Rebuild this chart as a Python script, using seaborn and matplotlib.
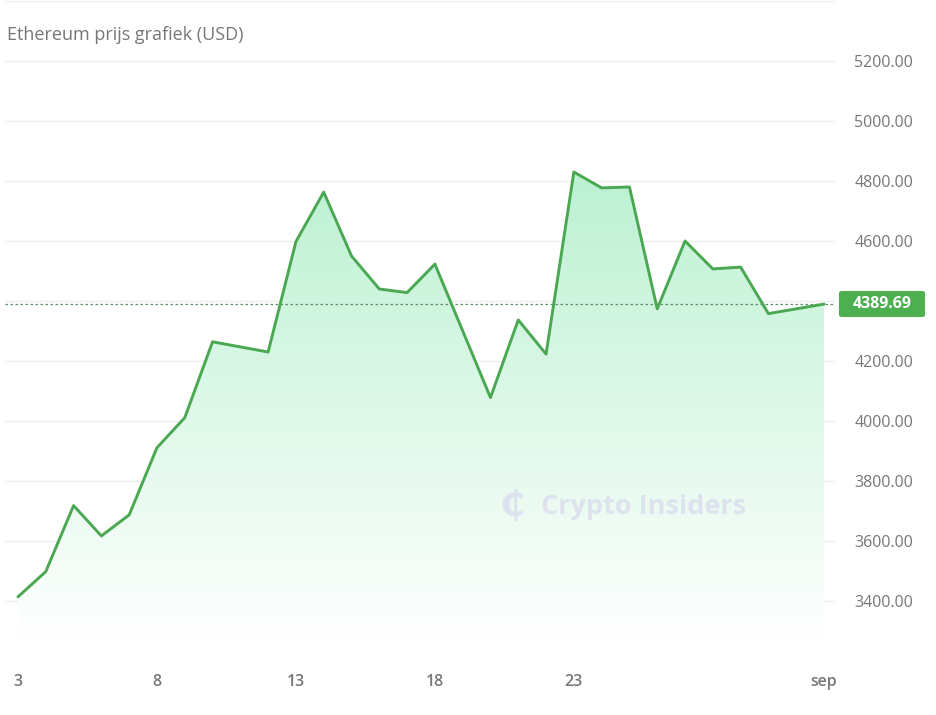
import numpy as np
import pandas as pd
import matplotlib
matplotlib.use("Agg")
import matplotlib.pyplot as plt
import matplotlib.dates as mdates
from matplotlib.patches import FancyBboxPatch
import seaborn as sns

# ---- data ----
dates = ["2025-08-03", "2025-08-04", "2025-08-05", "2025-08-06", "2025-08-07",
         "2025-08-08", "2025-08-09", "2025-08-10", "2025-08-12", "2025-08-13",
         "2025-08-14", "2025-08-15", "2025-08-16", "2025-08-17", "2025-08-18",
         "2025-08-20", "2025-08-21", "2025-08-22", "2025-08-23", "2025-08-24",
         "2025-08-25", "2025-08-26", "2025-08-27", "2025-08-28", "2025-08-29",
         "2025-08-30", "2025-09-01"]
prices = [3414, 3498, 3718, 3617, 3687, 3911, 4011, 4264, 4230, 4598,
          4763, 4550, 4440, 4428, 4523, 4078, 4337, 4223, 4830, 4777,
          4780, 4374, 4600, 4507, 4513, 4358, 4389.69]
xtick_dates = ["2025-08-03", "2025-08-08", "2025-08-13", "2025-08-18", "2025-08-23", "2025-09-01"]
xtick_labels = ["3", "8", "13", "18", "23", "sep"]
ytick_values = [3400, 3600, 3800, 4000, 4200, 4600, 4800, 5000, 5200]
grid_values = [3400, 3600, 3800, 4000, 4200, 4400, 4600, 4800, 5000, 5200, 5400]
title = "Ethereum prijs grafiek (USD)"
watermark = "Crypto Insiders"

df = pd.DataFrame({"date": pd.to_datetime(dates), "price": prices})

sns.set_theme(style="white")
plt.rcParams["font.family"] = ["Open Sans", "DejaVu Sans"]

W, H = 937, 715
fig = plt.figure(figsize=(W / 100, H / 100), dpi=100)
ax = fig.add_axes([5 / W, 1 - 643 / H, (835 - 5) / W, (643 - 1) / H])

line_color = "#4aa853"
ymin, ymax = 3260, 5400

x0 = mdates.date2num(pd.Timestamp("2025-08-03")) - 13 / 27.8
x1 = mdates.date2num(pd.Timestamp("2025-09-01")) + 11 / 27.8

# gridlines
for v in grid_values:
    ax.axhline(v, color="#eeeeee", lw=1, zorder=0)

# gradient fill
xn = mdates.date2num(df["date"])
poly = ax.fill_between(xn, df["price"], ymin, color="none", lw=0)
top_val = max(prices)
yy = np.linspace(ymin, top_val, 300)
t = (yy - ymin) / (top_val - ymin)
c_top = np.array([188, 241, 210]) / 255
c_bot = np.array([255, 255, 255]) / 255
grad = (c_bot[None, :] * (1 - t[:, None]) + c_top[None, :] * t[:, None])
grad = np.repeat(grad[:, None, :], 2, axis=1)
im = ax.imshow(grad, extent=[xn.min(), xn.max(), ymin, top_val], origin="lower",
               aspect="auto", zorder=1, interpolation="bilinear")
path = poly.get_paths()[0]
im.set_clip_path(path, transform=ax.transData)

sns.lineplot(data=df, x="date", y="price", ax=ax, color=line_color, lw=2.1, zorder=3)
ax.set_xlim(x0, x1)
ax.set_ylim(ymin, ymax)

# last-value dotted line
last = prices[-1]
ax.axhline(last, color="#5f8f66", lw=0.9, ls=(0, (2, 2)), zorder=2)

# axes styling
for s in ax.spines.values():
    s.set_visible(False)
ax.set_xlabel("")
ax.set_ylabel("")
ax.yaxis.tick_right()
ax.set_yticks(ytick_values)
ax.set_yticklabels([f"{v:.2f}" for v in ytick_values])
ax.tick_params(axis="y", length=0, pad=14, labelsize=11.5, labelcolor="#777777")
ax.set_xticks(mdates.date2num(pd.to_datetime(xtick_dates)))
ax.set_xticklabels(xtick_labels)
ax.tick_params(axis="x", length=0, pad=22, labelsize=11.5, labelcolor="#777777")
for lbl in ax.get_xticklabels():
    lbl.set_fontweight("semibold")
ax.grid(False)

# last value box
fig.patches.append(FancyBboxPatch((839 / W, 1 - 317 / H), 86 / W, 26 / H,
                                  boxstyle="round,pad=0,rounding_size=0.003",
                                  transform=fig.transFigure, facecolor="#4caf50",
                                  edgecolor="none", zorder=5))
fig.text(882 / W, 1 - 304 / H, f"{last:.2f}", color="white", fontsize=11.5,
         fontweight="bold", ha="center", va="center", zorder=6)

# title
fig.text(7 / W, 1 - 35 / H, title, color="#777777", fontsize=13, ha="left", va="center")

# watermark
fig.text(644 / W, 1 - 507 / H, watermark, color="#dde2ee", fontsize=19.5,
         fontweight="bold", ha="center", va="center", zorder=4)
fig.text(512 / W, 1 - 507 / H, "₵", color="#dde2ee", fontsize=26,
         fontweight="bold", ha="center", va="center", zorder=4)

fig.savefig("out.png", dpi=100, facecolor="white")
